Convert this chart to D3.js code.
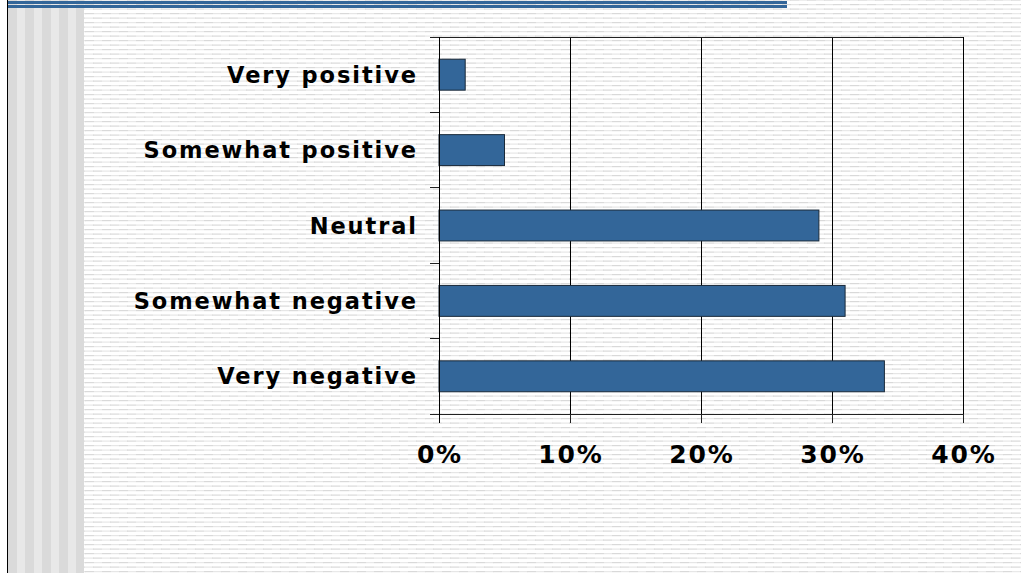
<!DOCTYPE html>
<html>
<head>
<meta charset="utf-8">
<script src="https://cdn.jsdelivr.net/npm/d3@7"></script>
<style>
  html, body { margin: 0; padding: 0; background: #fff; }
  svg { display: block; }
</style>
</head>
<body>
<svg id="chart" width="1021" height="573"></svg>
<script>
const categories = ["Very positive", "Somewhat positive", "Neutral", "Somewhat negative", "Very negative"];
const values = [0.02, 0.05, 0.29, 0.31, 0.34];
const tickValues = [0, 0.1, 0.2, 0.3, 0.4];
const tickLabels = ["0%", "10%", "20%", "30%", "40%"];

const W = 1021, H = 573;
const svg = d3.select("#chart");
const defs = svg.append("defs");

// background pattern of faint dashed horizontal lines
const pat = defs.append("pattern")
  .attr("id", "lines").attr("patternUnits", "userSpaceOnUse")
  .attr("x", 0).attr("y", 4).attr("width", 34).attr("height", 9);
pat.append("rect").attr("x", 0).attr("y", 0).attr("width", 34).attr("height", 9).attr("fill", "#ffffff");
[[0, 0, "#d9d9d9"], [9, 0, "#e6e6e6"], [17, 0, "#dadada"], [26, 0, "#e9e9e9"],
 [0, 4.5, "#e7e7e7"], [8, 4.5, "#dadada"], [17, 4.5, "#e8e8e8"], [25, 4.5, "#d9d9d9"]]
  .forEach(([x, y, c]) => {
    pat.append("rect").attr("x", x).attr("y", y).attr("width", 9).attr("height", 1.2).attr("fill", c);
  });

svg.append("rect").attr("x", 0).attr("y", 0).attr("width", W).attr("height", H).attr("fill", "url(#lines)");

// left vertical stripes
svg.append("rect").attr("x", 0).attr("y", 0).attr("width", 7).attr("height", H).attr("fill", "#ffffff");
d3.range(8, 76, 17).forEach(x => {
  svg.append("rect").attr("x", x).attr("y", 0).attr("width", 9).attr("height", H).attr("fill", "#dadada");
  svg.append("rect").attr("x", x + 9).attr("y", 0).attr("width", 8).attr("height", H).attr("fill", "#e8e8e8");
});
svg.append("rect").attr("x", 76).attr("y", 0).attr("width", 8).attr("height", H).attr("fill", "#dadada");
svg.append("rect").attr("x", 7).attr("y", 0).attr("width", 1).attr("height", H).attr("fill", "#000");

// top blue double line
svg.append("rect").attr("x", 8).attr("y", 1).attr("width", 779).attr("height", 3).attr("fill", "#336699");
svg.append("rect").attr("x", 8).attr("y", 5).attr("width", 779).attr("height", 3).attr("fill", "#336699");

// chart
const x0 = 439, x1 = 963, y0 = 37, y1 = 414;
const x = d3.scaleLinear().domain([0, 0.4]).range([x0, x1]);
const y = d3.scaleBand().domain(categories).range([y0, y1]).paddingInner(0.59).paddingOuter(0.295);

const g = svg.append("g");

// vertical gridlines + bottom ticks
g.append("g").attr("transform", `translate(0,${y1})`)
  .call(d3.axisBottom(x).tickValues(tickValues).tickSizeInner(-(y1 - y0)).tickSizeOuter(0).tickFormat(""))
  .call(s => s.select(".domain").remove())
  .call(s => s.selectAll("line").attr("stroke", "#000").attr("shape-rendering", "crispEdges"));
g.append("g").attr("transform", `translate(0,${y1})`)
  .call(d3.axisBottom(x).tickValues(tickValues).tickSizeInner(9).tickSizeOuter(0).tickFormat(""))
  .call(s => s.select(".domain").remove())
  .call(s => s.selectAll("line").attr("stroke", "#222").attr("shape-rendering", "crispEdges"));

// top border
g.append("line").attr("x1", x0).attr("x2", x1).attr("y1", y0).attr("y2", y0)
  .attr("stroke", "#222").attr("shape-rendering", "crispEdges");

// left axis ticks at band boundaries
const bounds = d3.range(categories.length + 1).map(i => y0 + i * y.step());
g.selectAll(".ytick").data(bounds).join("line")
  .attr("x1", x0 - 9).attr("x2", x0).attr("y1", d => d).attr("y2", d => d)
  .attr("stroke", "#222").attr("shape-rendering", "crispEdges");
// bottom axis line
g.append("line").attr("x1", x0 - 9).attr("x2", x1).attr("y1", y1).attr("y2", y1)
  .attr("stroke", "#222").attr("shape-rendering", "crispEdges");

// bars
g.selectAll(".bar").data(categories).join("rect")
  .attr("x", x(0)).attr("y", d => y(d))
  .attr("width", (d, i) => x(values[i]) - x(0))
  .attr("height", y.bandwidth())
  .attr("fill", "#336699").attr("stroke", "#1a2a3a").attr("stroke-width", 1);

// left axis line
g.append("line").attr("x1", x0).attr("x2", x0).attr("y1", y0).attr("y2", y1 + 9)
  .attr("stroke", "#000").attr("shape-rendering", "crispEdges");

// category labels
const ls = 1.9;
g.selectAll(".clabel").data(categories).join("text")
  .attr("x", x0 - 23 + ls).attr("y", d => y(d) + y.bandwidth() / 2)
  .attr("text-anchor", "end").attr("dominant-baseline", "central")
  .attr("font-family", "DejaVu Sans, Verdana, sans-serif").attr("font-weight", "bold")
  .attr("font-size", 22.5).attr("letter-spacing", ls).attr("fill", "#000")
  .text(d => d);

// x tick labels
const ls2 = 1.8;
g.selectAll(".xlabel").data(tickValues).join("text")
  .attr("x", d => x(d) + ls2 / 2).attr("y", 454)
  .attr("text-anchor", "middle").attr("dominant-baseline", "central")
  .attr("font-family", "DejaVu Sans, Verdana, sans-serif").attr("font-weight", "bold")
  .attr("font-size", 25).attr("letter-spacing", ls2).attr("fill", "#000")
  .text((d, i) => tickLabels[i]);
</script>
</body>
</html>
